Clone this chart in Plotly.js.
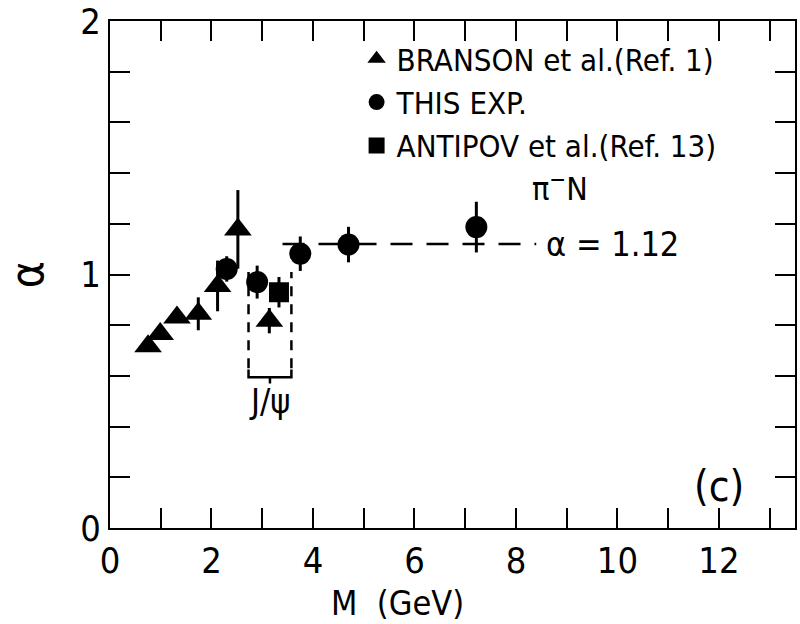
<!DOCTYPE html>
<html>
<head>
<meta charset="utf-8">
<script src="https://cdn.plot.ly/plotly-3.0.1.min.js"></script>
<style>html,body{margin:0;padding:0;background:#fff;}</style>
</head>
<body>
<div id="chart" style="width:800px;height:624px;"></div>
<script>
// BRANSON et al. (Ref. 1)
const bransonM   = [0.75, 0.99, 1.32, 1.74, 2.12, 2.52, 3.14];
const bransonA   = [0.717, 0.765, 0.83, 0.845, 0.955, 1.178, 0.818];
const bransonErr = [0.02, 0.02, 0.02, 0.065, 0.10, 0.155, 0.05];
// THIS EXP.
const thisM   = [2.30, 2.90, 3.75, 4.70, 7.22];
const thisA   = [1.022, 0.97, 1.082, 1.118, 1.187];
const thisErr = [0.05, 0.065, 0.068, 0.07, 0.10];
// ANTIPOV et al. (Ref. 13)
const antipovM   = [3.33];
const antipovA   = [0.93];
const antipovErr = [0.06];
// fit alpha = 1.12
const fitM = [3.4, 8.4];
const fitA = [1.12, 1.12];
// J/psi region box
const jpsiBoxM = [2.73, 3.575];
const jpsiBoxA = [0.63, 1.01];

const FONT = '"Liberation Sans Narrow", "DejaVu Sans Condensed", "Liberation Sans", sans-serif';

const traces = [
  {x: bransonM, y: bransonA, type: 'scatter', mode: 'markers', name: 'BRANSON et al.(Ref. 1)',
   marker: {symbol: 'triangle-up', size: 24, color: '#000'},
   error_y: {type: 'data', array: bransonErr, color: '#000', thickness: 3, width: 0}},
  {x: thisM, y: thisA, type: 'scatter', mode: 'markers', name: 'THIS EXP.',
   marker: {symbol: 'circle', size: 22, color: '#000'},
   error_y: {type: 'data', array: thisErr, color: '#000', thickness: 3, width: 0}},
  {x: antipovM, y: antipovA, type: 'scatter', mode: 'markers', name: 'ANTIPOV et al.(Ref. 13)',
   marker: {symbol: 'square', size: 20, color: '#000'},
   error_y: {type: 'data', array: antipovErr, color: '#000', thickness: 3, width: 0}},
  {x: fitM, y: fitA, type: 'scatter', mode: 'lines', name: 'fit', showlegend: false,
   line: {color: '#000', width: 2.5, dash: '22px,14px'}}
];

const b0 = jpsiBoxM[0], b1 = jpsiBoxM[1], bm = (b0 + b1) / 2;
const ylo = jpsiBoxA[0], yhi = jpsiBoxA[1];
const shapes = [
  {type: 'line', xref: 'x', yref: 'y', x0: b0, x1: b0, y0: ylo, y1: yhi,
   line: {color: '#000', width: 2.5, dash: '10px,8px'}},
  {type: 'line', xref: 'x', yref: 'y', x0: b1, x1: b1, y0: ylo, y1: yhi,
   line: {color: '#000', width: 2.5, dash: '10px,8px'}},
  {type: 'path', xref: 'x', yref: 'y',
   path: `M ${b0},${ylo - 0.005} L ${b0},${ylo - 0.035} L ${b1},${ylo - 0.035} L ${b1},${ylo - 0.005} M ${bm},${ylo - 0.035} L ${bm},${ylo - 0.06}`,
   line: {color: '#000', width: 2.5}}
];

const annotations = [
  {x: 8.55, y: 1.12, xref: 'x', yref: 'y', text: 'α = 1.12', showarrow: false, xanchor: 'left',
   font: {family: FONT, size: 34, color: '#000'}},
  {x: 8.86, y: 1.345, xref: 'x', yref: 'y', text: 'π<sup>−</sup>N', showarrow: false,
   font: {family: FONT, size: 32, color: '#000'}},
  {x: bm, y: 0.5, xref: 'x', yref: 'y', text: 'J/ψ', showarrow: false,
   font: {family: FONT, size: 34, color: '#000'}},
  {x: 12.0, y: 0.165, xref: 'x', yref: 'y', text: '(c)', showarrow: false,
   font: {family: FONT, size: 42, color: '#000'}},
  {x: 0.42, y: -0.148, xref: 'paper', yref: 'paper', yanchor: 'middle', text: 'M  (GeV)', showarrow: false,
   font: {family: FONT, size: 34, color: '#000'}}
];

const layout = {
  width: 800, height: 624,
  margin: {l: 110, r: 5, t: 21, b: 96},
  paper_bgcolor: '#fff', plot_bgcolor: '#fff',
  font: {family: FONT, color: '#000'},
  showlegend: true,
  legend: {x: 0.36, y: 0.978, xanchor: 'left', yanchor: 'top', bgcolor: 'rgba(0,0,0,0)',
           font: {family: FONT, size: 31, color: '#000'}, itemsizing: 'trace', tracegroupgap: 0},
  xaxis: {range: [0, 13.5], dtick: 2, tick0: 0, ticks: 'inside', ticklen: 20, tickwidth: 2,
          minor: {dtick: 1, ticks: 'inside', ticklen: 20, tickwidth: 2, tickcolor: '#000'},
          tickcolor: '#000', showline: true, linecolor: '#000', linewidth: 2, mirror: 'allticks',
          showgrid: false, zeroline: false,
          tickfont: {family: FONT, size: 36, color: '#000'}},
  yaxis: {range: [0, 2], dtick: 1, tick0: 0, ticks: 'inside', ticklen: 20, tickwidth: 2,
          minor: {dtick: 0.2, ticks: 'inside', ticklen: 20, tickwidth: 2, tickcolor: '#000'},
          tickcolor: '#000', showline: true, linecolor: '#000', linewidth: 2, mirror: 'allticks',
          showgrid: false, zeroline: false,
          tickfont: {family: FONT, size: 36, color: '#000'},
          title: {text: 'α', font: {family: FONT, size: 46, color: '#000'}, standoff: 24}},
  shapes: shapes,
  annotations: annotations
};

Plotly.newPlot('chart', traces, layout, {displayModeBar: false, staticPlot: true});
</script>
</body>
</html>
